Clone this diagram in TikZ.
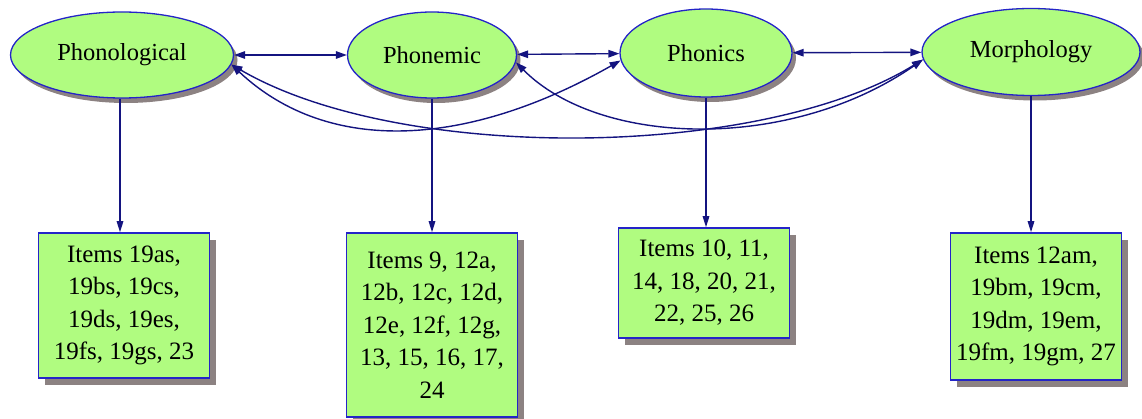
\documentclass[tikz,border=0pt]{standalone}
\usepackage{fontspec}
\setmainfont{Liberation Serif}
\usetikzlibrary{shapes.geometric,shadows,arrows.meta}
\definecolor{fillc}{RGB}{176,252,128}
\definecolor{borderc}{RGB}{36,36,200}
\definecolor{edgec}{RGB}{20,20,128}
\definecolor{shadowc}{RGB}{140,130,130}
\tikzset{
  conc/.style={ellipse, draw=borderc, line width=1.3pt, fill=fillc, inner sep=0pt,
    drop shadow={shadow xshift=4pt, shadow yshift=-5pt, fill=shadowc, opacity=1},
    font=\fontsize{24.5}{29}\selectfont},
  itembox/.style={rectangle, draw=borderc, line width=1.5pt, fill=fillc, inner sep=0pt,
    minimum width=171pt, align=center,
    drop shadow={shadow xshift=6pt, shadow yshift=-7pt, fill=shadowc, opacity=1},
    font=\fontsize{25}{32.5}\selectfont},
  biedge/.style={draw=edgec, line width=1.4pt, {Triangle[length=11pt,width=7.5pt]}-{Triangle[length=11pt,width=7.5pt]}},
  downedge/.style={draw=edgec, line width=1.4pt, -{Triangle[length=11pt,width=6.5pt]}}
}
\begin{document}
\begin{tikzpicture}[x=1pt,y=-1pt]
\useasboundingbox (0,0) rectangle (1142,419);
\node[conc, minimum width=223pt, minimum height=86pt] (phonol) at (122,55) {Phonological};
\node[conc, minimum width=169pt, minimum height=86pt] (phonem) at (432,55) {Phonemic};
\node[conc, minimum width=172pt, minimum height=88pt] (phonic) at (706,53) {Phonics};
\node[conc, minimum width=218pt, minimum height=87pt] (morph) at (1031,52) {Morphology};

\node[itembox, minimum height=145pt] (b1) at (124,305.5) {Items 19as,\\19bs, 19cs,\\19ds, 19es,\\19fs, 19gs, 23};
\node[itembox, minimum height=184pt] (b2) at (432,325) {Items 9, 12a,\\12b, 12c, 12d,\\12e, 12f, 12g,\\13, 15, 16, 17,\\24};
\node[itembox, minimum height=110pt] (b3) at (704,283) {Items 10, 11,\\14, 18, 20, 21,\\22, 25, 26};
\node[itembox, minimum height=147pt] (b4) at (1036,306.5) {Items 12am,\\19bm, 19cm,\\19dm, 19em,\\19fm, 19gm, 27};

\draw[biedge] (phonol) -- (phonem);
\draw[biedge] (phonem) -- (phonic);
\draw[biedge] (phonic) -- (morph);
\draw[biedge] (phonol.-5) .. controls (330,157) and (470,146) .. (phonic.185);
\draw[biedge] (phonol.-5) .. controls (400,163) and (760,160) .. (morph.184);
\draw[biedge] (phonem.-5) .. controls (600,147) and (790,152) .. (morph.184);

\draw[downedge] ([xshift=-2pt]phonol.south) -- ([xshift=-2pt]phonol.south |- b1.north);
\draw[downedge] (phonem.south) -- (phonem.south |- b2.north);
\draw[downedge] (phonic.south) -- (phonic.south |- b3.north);
\draw[downedge] (morph.south) -- (morph.south |- b4.north);
\end{tikzpicture}
\end{document}
